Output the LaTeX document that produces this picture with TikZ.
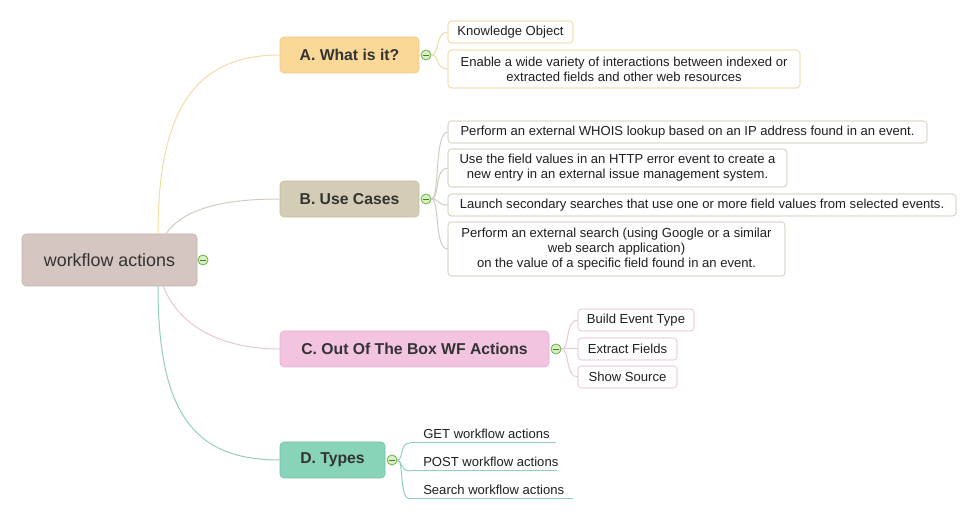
\documentclass[tikz,border=0pt]{standalone}
\usepackage{fontspec}
\setmainfont{Liberation Sans}
\definecolor{rootFill}{HTML}{D5C6C2}
\definecolor{rootDraw}{HTML}{C2B2AE}
\definecolor{aFill}{HTML}{F9D898}
\definecolor{aDraw}{HTML}{EBC785}
\definecolor{aLine}{HTML}{F2DCA6}
\definecolor{bFill}{HTML}{D3CDB6}
\definecolor{bDraw}{HTML}{C2BBA3}
\definecolor{bLine}{HTML}{D2CBC0}
\definecolor{cFill}{HTML}{F2C4E0}
\definecolor{cDraw}{HTML}{E2B0D0}
\definecolor{cLine}{HTML}{E6C6DA}
\definecolor{dFill}{HTML}{88D4B8}
\definecolor{dDraw}{HTML}{70C0A2}
\definecolor{dLine}{HTML}{92D0BC}
\definecolor{txt}{HTML}{333333}
\definecolor{clGreen}{HTML}{6CB040}
\definecolor{clFill}{HTML}{D6F0C4}
\begin{document}
\begin{tikzpicture}[x=0.75pt,y=-0.75pt,
  sz/.style 2 args={minimum width=#1*0.75pt, minimum height=#2*0.75pt},
  mainbox/.style={rounded corners=3pt, inner sep=0pt, text=txt, font=\bfseries\fontsize{11.8}{14}\selectfont},
  leaf/.style={draw=#1, fill=white, rounded corners=2.5pt, inner sep=0pt, align=center, text=black!88, font=\fontsize{9.8}{11.3}\selectfont},
  dleaf/.style={anchor=south west, inner xsep=0pt, inner ysep=2pt, text=black!88, font=\fontsize{9.8}{11.3}\selectfont},
  conn/.style={draw=#1, line width=0.75pt},
  collapse/.style={circle, draw=clGreen, fill=clFill, line width=0.6pt, minimum size=7.5pt, inner sep=0pt,
    path picture={\draw[clGreen!70!black, line width=0.6pt] ([xshift=-2.2pt]path picture bounding box.center) -- ([xshift=2.2pt]path picture bounding box.center);}}
]
\useasboundingbox (0,0) rectangle (976,520);

% root
\node[draw=rootDraw, fill=rootFill, rounded corners=3pt, sz={175}{52}, text=txt, font=\fontsize{13.4}{16}\selectfont] (root) at (109.5,260) {workflow actions};
\node[collapse] (cr) at (203,260) {};
\coordinate (ra) at (158,234);
\coordinate (rb) at (166,234);
\coordinate (rc) at (163,286);
\coordinate (rd) at (158,286);

% main branches
\node[mainbox, draw=aDraw, fill=aFill, sz={139}{36}] (A) at (349.5,55) {A. What is it?};
\node[mainbox, draw=bDraw, fill=bFill, sz={139}{36}] (B) at (349.5,199) {B. Use Cases};
\node[mainbox, draw=cDraw, fill=cFill, sz={269}{36}] (C) at (414.5,349) {C. Out Of The Box WF Actions};
\node[mainbox, draw=dDraw, fill=dFill, sz={105}{36}] (D) at (332.5,460) {D. Types};

\draw[conn=aLine] (ra) .. controls (158,110) and (195,55) .. (A.west);
\draw[conn=bLine] (rb) .. controls (185,205) and (235,199) .. (B.west);
\draw[conn=cLine] (rc) .. controls (183,335) and (235,349) .. (C.west);
\draw[conn=dLine] (rd) .. controls (158,415) and (195,460) .. (D.west);

% collapse markers
\node[collapse] (ca) at (426,55) {};
\node[collapse] (cb) at (426,199) {};
\node[collapse] (cc) at (556,349) {};
\node[collapse] (cd) at (392,460) {};

% A children
\node[leaf=aDraw, sz={125}{22}] (A1) at (510.5,32) {Knowledge Object};
\node[leaf=aDraw, sz={352}{38}] (A2) at (624,69) {Enable a wide variety of interactions between indexed or\\extracted fields and other web resources};
\draw[conn=aLine] (ca.east) .. controls (440,55) and (435,32) .. (A1.west);
\draw[conn=aLine] (ca.east) .. controls (440,55) and (435,69) .. (A2.west);

% B children
\node[leaf=bDraw, sz={479}{22}] (B1) at (687.5,132) {Perform an external WHOIS lookup based on an IP address found in an event.};
\node[leaf=bDraw, sz={339}{38}] (B2) at (617.5,168) {Use the field values in an HTTP error event to create a\\new entry in an external issue management system.};
\node[leaf=bDraw, sz={508}{22}] (B3) at (702,205) {Launch secondary searches that use one or more field values from selected events.};
\node[leaf=bDraw, sz={337}{54}] (B4) at (616.5,249) {Perform an external search (using Google or a similar\\web search application)\\on the value of a specific field found in an event.};
\draw[conn=bLine] (cb.east) .. controls (440,199) and (434,132) .. (B1.west);
\draw[conn=bLine] (cb.east) .. controls (440,199) and (434,168) .. (B2.west);
\draw[conn=bLine] (cb.east) .. controls (440,199) and (436,205) .. (B3.west);
\draw[conn=bLine] (cb.east) .. controls (440,199) and (434,249) .. (B4.west);

% C children
\node[leaf=cDraw, sz={116}{22}] (C1) at (636,320) {Build Event Type};
\node[leaf=cDraw, sz={99}{22}] (C2) at (627.5,349) {Extract Fields};
\node[leaf=cDraw, sz={99}{22}] (C3) at (627.5,377) {Show Source};
\draw[conn=cLine] (cc.east) .. controls (570,349) and (565,320) .. (C1.west);
\draw[conn=cLine] (cc.east) -- (C2.west);
\draw[conn=cLine] (cc.east) .. controls (570,349) and (565,377) .. (C3.west);

% D children
\node[dleaf] (D1) at (423,442) {GET workflow actions};
\node[dleaf] (D2) at (423,470) {POST workflow actions};
\node[dleaf] (D3) at (423,498) {Search workflow actions};
\coordinate (d1s) at (410,443); \coordinate (d1e) at (556,443);
\coordinate (d2s) at (410,471); \coordinate (d2e) at (557,471);
\coordinate (d3s) at (410,499); \coordinate (d3e) at (573,499);
\draw[conn=dLine] (d1s) -- (d1e);
\draw[conn=dLine] (d2s) -- (d2e);
\draw[conn=dLine] (d3s) -- (d3e);
\draw[conn=dLine] (cd.east) .. controls (404,460) and (399,443) .. (d1s);
\draw[conn=dLine] (cd.east) .. controls (402,460) and (400,471) .. (d2s);
\draw[conn=dLine] (cd.east) .. controls (404,460) and (399,499) .. (d3s);
\end{tikzpicture}
\end{document}
